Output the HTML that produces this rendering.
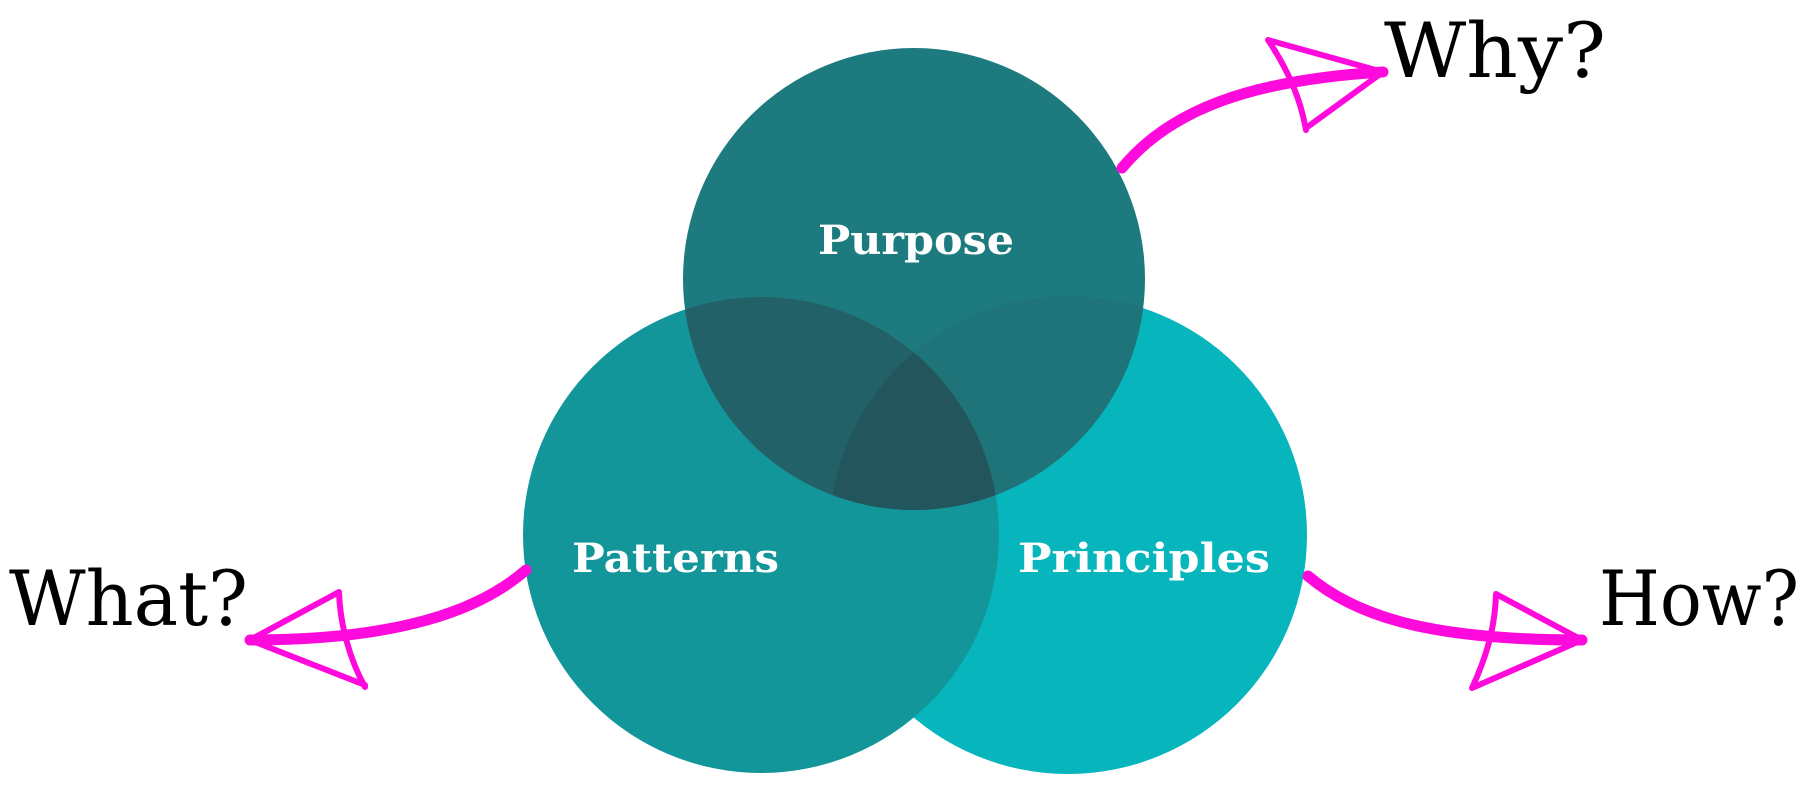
<!DOCTYPE html>
<html><head><meta charset="utf-8"><style>
html,body{margin:0;padding:0;background:#fff;}
svg{display:block}
</style></head><body>
<svg width="1806" height="791" viewBox="0 0 1806 791" xmlns="http://www.w3.org/2000/svg">
<defs>
<clipPath id="cPur"><circle cx="914" cy="279" r="231"/></clipPath>
<clipPath id="cPat"><circle cx="761" cy="535" r="238"/></clipPath>
</defs>
<circle cx="1068" cy="535" r="239" fill="#07b5bc"/>
<circle cx="761" cy="535" r="238" fill="#13969a"/>
<circle cx="914" cy="279" r="231" fill="#1d7a7e"/>
<g clip-path="url(#cPur)">
  <circle cx="761" cy="535" r="238" fill="#236168"/>
  <circle cx="1068" cy="535" r="239" fill="#1e7478"/>
  <g clip-path="url(#cPat)"><circle cx="1068" cy="535" r="239" fill="#23565c"/></g>
</g>
<g font-family="'DejaVu Serif','Liberation Serif',serif" font-weight="bold" fill="#fff" font-size="40" lengthAdjust="spacingAndGlyphs">
<text x="818" y="254" textLength="196" lengthAdjust="spacingAndGlyphs">Purpose</text>
<text x="572" y="572" textLength="207" lengthAdjust="spacingAndGlyphs">Patterns</text>
<text x="1018" y="572" textLength="252" lengthAdjust="spacingAndGlyphs">Principles</text>
</g>
<g font-family="'DejaVu Serif','Liberation Serif',serif" fill="#000" font-size="76">
<text x="1384" y="77" textLength="222" lengthAdjust="spacingAndGlyphs">Why?</text>
<text x="9" y="625" textLength="239" lengthAdjust="spacingAndGlyphs">What?</text>
<text x="1599" y="625" textLength="200" lengthAdjust="spacingAndGlyphs">How?</text>
</g>
<g fill="none" stroke="#ff0adc" stroke-linecap="round" stroke-linejoin="round">
<path d="M1122,168 C1170,110 1250,80 1383,72" stroke-width="11"/>
<path d="M1268,40 L1383,72 L1306,128 M1268,40 C1285,65 1300,95 1306,130" stroke-width="6"/>
<path d="M526,570 C480,610 400,640 250,640" stroke-width="11"/>
<path d="M339,592 L250,640 L365,685 M339,592 C340,625 350,660 365,687" stroke-width="6"/>
<path d="M1308,576 C1360,620 1440,640 1582,640" stroke-width="11"/>
<path d="M1496,594 L1582,640 L1472,688 M1496,594 C1495,630 1485,660 1472,688" stroke-width="6"/>
</g>
</svg>
</body></html>
